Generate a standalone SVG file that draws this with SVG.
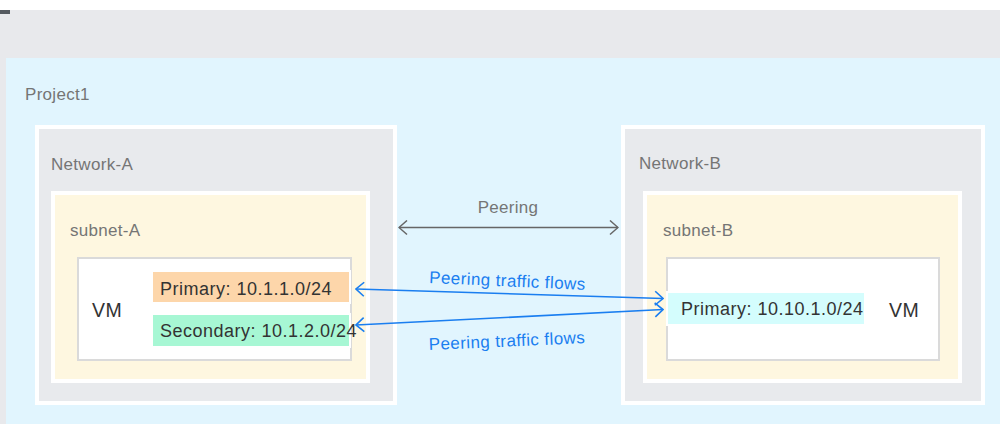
<svg xmlns="http://www.w3.org/2000/svg" width="1000" height="424" viewBox="0 0 1000 424">
  <style>
    .lbl { font-family: "Liberation Sans", Arial, sans-serif; font-size: 17px; fill: #757575; letter-spacing: 0.3px; }
    .txt { font-family: "Liberation Sans", Arial, sans-serif; font-size: 18px; fill: #333333; letter-spacing: 0.5px; }
    .vmname { font-family: "Liberation Sans", Arial, sans-serif; font-size: 19.5px; fill: #333333; letter-spacing: 0.6px; }
    .flow { font-family: "Liberation Sans", Arial, sans-serif; font-size: 17px; fill: #1a7ef0; letter-spacing: 0.4px; }
    .net { fill: #e8eaed; stroke: #ffffff; stroke-width: 4; }
    .subnet { fill: #fef7e0; stroke: #ffffff; stroke-width: 4; }
    .vm { fill: #ffffff; stroke: #dadada; stroke-width: 2; }
    .peer { fill: none; stroke: #666666; stroke-width: 1.5; }
    .traffic { fill: none; stroke: #1a7ef0; stroke-width: 1.6; }
  </style>
  <defs>
    <marker id="gray-head" viewBox="0 0 10 16" refX="9" refY="8" markerWidth="10" markerHeight="16" markerUnits="userSpaceOnUse" orient="auto-start-reverse">
      <path d="M1,1 L9,8 L1,15" fill="none" stroke="#666666" stroke-width="1.5"/>
    </marker>
    <marker id="blue-head" viewBox="0 0 10 16" refX="9" refY="8" markerWidth="10" markerHeight="16" markerUnits="userSpaceOnUse" orient="auto-start-reverse">
      <path d="M1,1 L9,8 L1,15" fill="none" stroke="#1a7ef0" stroke-width="1.6"/>
    </marker>
  </defs>

  <!-- page background -->
  <rect x="0" y="0" width="1000" height="424" fill="#ffffff"/>
  <rect x="0" y="10" width="1000" height="414" fill="#e8e9ec"/>
  <rect x="0" y="10" width="10" height="4" fill="#555a60"/>

  <!-- project area -->
  <g id="project1">
    <rect x="6" y="58" width="994" height="366" fill="#e1f5fe"/>
    <text class="lbl" x="25" y="100">Project1</text>
  </g>

  <!-- Network-A -->
  <g id="network-a">
    <rect class="net" x="37" y="127" width="358" height="276"/>
    <text class="lbl" x="51" y="170">Network-A</text>
  </g>
  <g id="subnet-a">
    <rect class="subnet" x="53" y="193" width="315" height="188"/>
    <text class="lbl" x="70" y="236">subnet-A</text>
  </g>
  <g id="vm-a">
    <rect class="vm" x="78" y="258" width="273" height="102"/>
    <text class="vmname" x="92" y="317">VM</text>
  </g>
  <g id="primary-a">
    <rect x="152" y="271" width="198" height="32" fill="#fdd6aa" stroke="#ffffff" stroke-width="2"/>
    <text class="txt" x="160" y="295">Primary: 10.1.1.0/24</text>
  </g>
  <g id="secondary-a">
    <rect x="152" y="314" width="198" height="33" fill="#a7f7d4" stroke="#ffffff" stroke-width="2"/>
    <text class="txt" x="160" y="337">Secondary: 10.1.2.0/24</text>
  </g>

  <!-- Network-B -->
  <g id="network-b">
    <rect class="net" x="623" y="127" width="360" height="276"/>
    <text class="lbl" x="639" y="169">Network-B</text>
  </g>
  <g id="subnet-b">
    <rect class="subnet" x="645" y="193" width="315" height="188"/>
    <text class="lbl" x="663" y="236">subnet-B</text>
  </g>
  <g id="vm-b">
    <rect class="vm" x="667" y="258" width="272" height="102"/>
    <text class="vmname" x="889" y="317">VM</text>
  </g>
  <g id="primary-b">
    <rect x="667" y="292" width="198" height="33" fill="#d4fdfd" stroke="#ffffff" stroke-width="2"/>
    <text class="txt" x="681" y="315">Primary: 10.10.1.0/24</text>
  </g>

  <!-- connectors -->
  <g id="connectors">
    <line class="peer" x1="399" y1="227.5" x2="618" y2="227.5" marker-start="url(#gray-head)" marker-end="url(#gray-head)"/>
    <text class="lbl" x="508" y="213" text-anchor="middle">Peering</text>

    <line class="traffic" x1="356" y1="289" x2="663" y2="298.5" marker-start="url(#blue-head)" marker-end="url(#blue-head)"/>
    <text class="flow" transform="translate(429,283) rotate(2.5)">Peering traffic flows</text>

    <line class="traffic" x1="356" y1="325" x2="663" y2="309.5" marker-start="url(#blue-head)" marker-end="url(#blue-head)"/>
    <text class="flow" transform="translate(429,350) rotate(-2.5)">Peering traffic flows</text>
  </g>
</svg>
